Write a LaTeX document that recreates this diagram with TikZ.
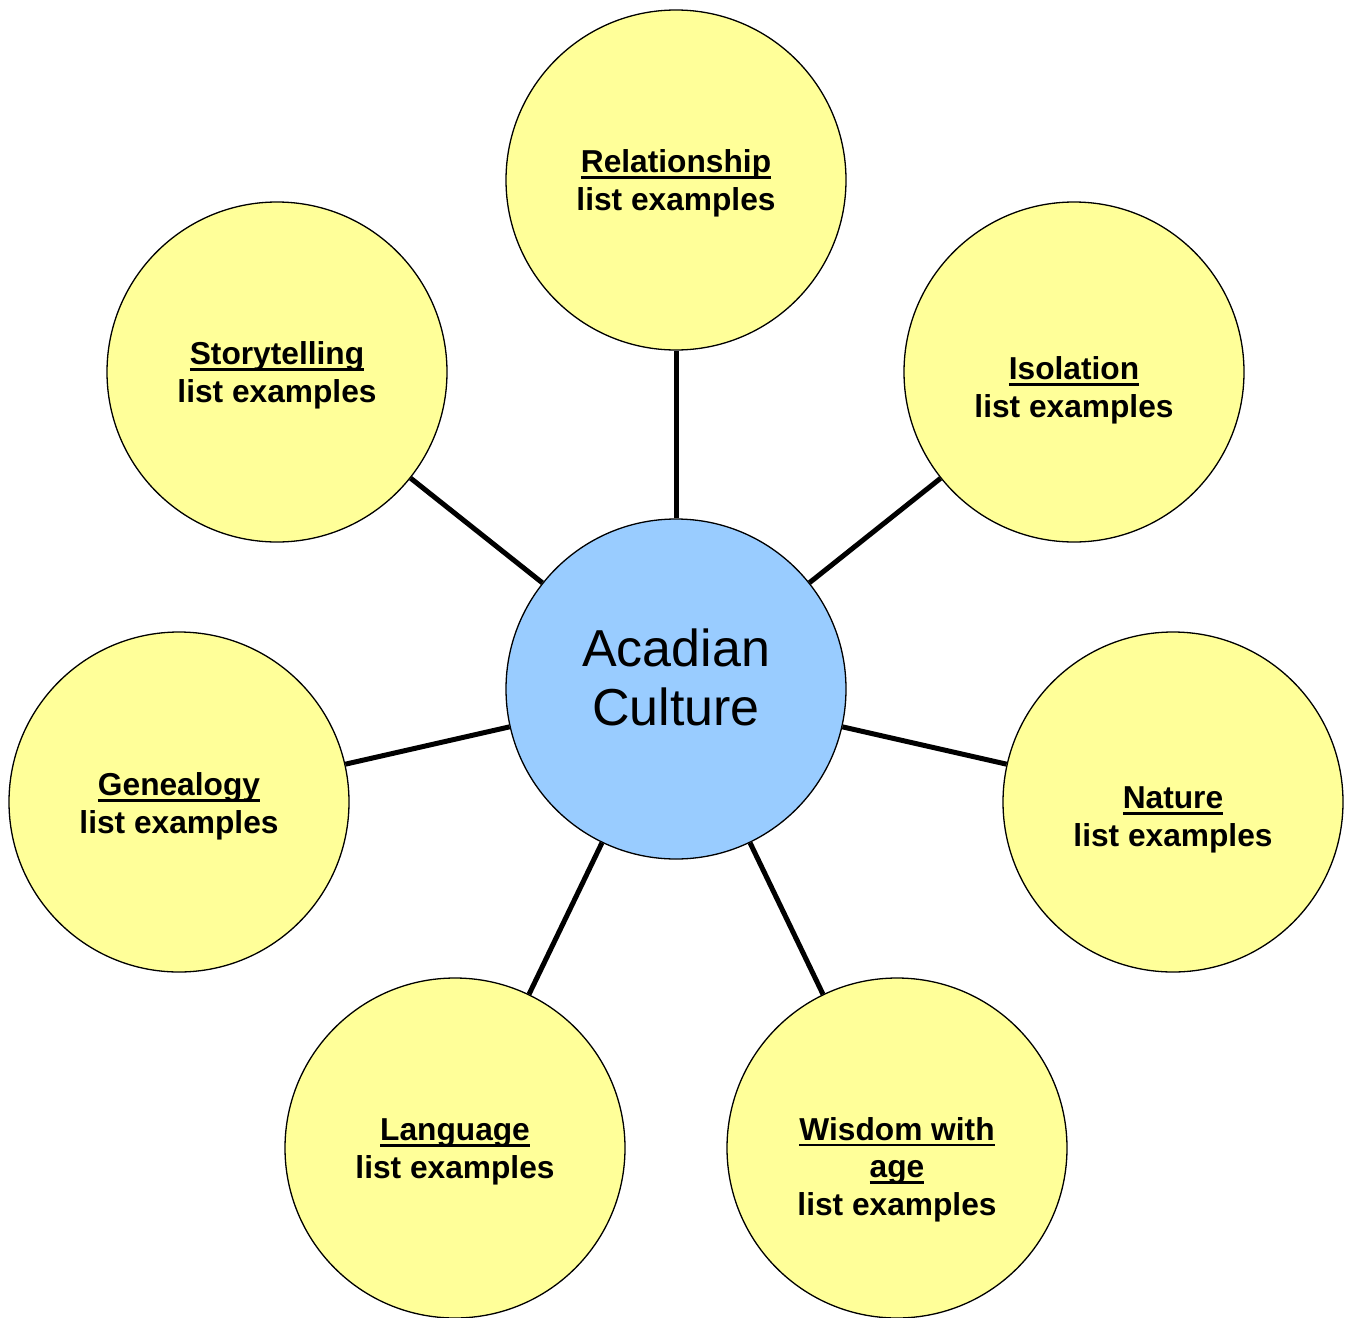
\documentclass[tikz,border=0pt]{standalone}
\usepackage{fontspec}
\setmainfont{Liberation Sans}
\definecolor{bubyellow}{HTML}{FFFF99}
\definecolor{hubblue}{HTML}{99CCFF}
\newcommand\ulw[1]{\setbox0=\hbox{#1}\rlap{\rule[-6.2pt]{\wd0}{2.3pt}}\box0}
\begin{document}
\begin{tikzpicture}[x=1pt,y=-1pt,
  bub/.style={circle, draw=black, line width=1.3pt, minimum size=340pt, inner sep=0pt, fill=bubyellow},
  hub/.style={bub, fill=hubblue},
  txt/.style={font=\fontsize{31.7}{37.5}\selectfont\bfseries, align=center, inner sep=0pt, anchor=base},
  hubtxt/.style={font=\fontsize{52}{59}\selectfont, align=center, inner sep=0pt, anchor=base},
  link/.style={line width=5pt}]
\useasboundingbox (0,0) rectangle (1351,1317);
\fill[white] (0,0) rectangle (1351,1317);
\node[hub] (c) at (676,689) {};
\node[bub] (rel) at (676,180) {};
\node[bub] (iso) at (1074,372) {};
\node[bub] (sto) at (277,372) {};
\node[bub] (nat) at (1173,802) {};
\node[bub] (gen) at (179,802) {};
\node[bub] (lan) at (455,1148) {};
\node[bub] (wis) at (897,1148) {};
\foreach \n in {rel,iso,sto,nat,gen,lan,wis}{\draw[link] (c) -- (\n);}
\node[hubtxt] (tc) at (676,725) {Acadian\\Culture};
\node[txt] (trel) at (676,210) {\ulw{Relationship}\\list examples};
\node[txt] (tsto) at (277,402) {\ulw{Storytelling}\\list examples};
\node[txt] (tiso) at (1074,417) {\ulw{Isolation}\\list examples};
\node[txt] (tnat) at (1173,846) {\ulw{Nature}\\list examples};
\node[txt] (tgen) at (179,833) {\ulw{Genealogy}\\list examples};
\node[txt] (tlan) at (455,1178) {\ulw{Language}\\list examples};
\node[txt] (twis) at (897,1215) {\ulw{Wisdom with}\\\ulw{age}\\list examples};
\end{tikzpicture}
\end{document}
